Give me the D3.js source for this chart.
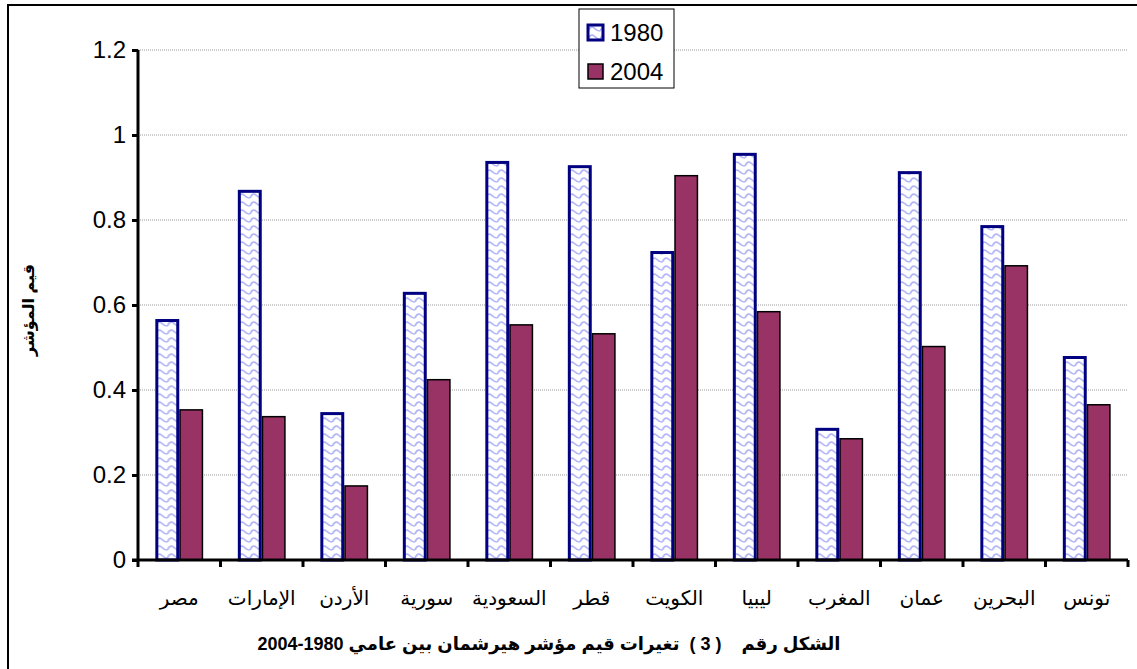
<!DOCTYPE html>
<html>
<head>
<meta charset="utf-8">
<script src="https://cdn.jsdelivr.net/npm/d3@7"></script>
<style>
  html, body { margin: 0; padding: 0; background: #fff; }
  svg { display: block; font-family: Arial, "Liberation Sans", "DejaVu Sans", sans-serif; }
  .caption { white-space: pre; }
</style>
</head>
<body>
<div id="chart"></div>
<script>
const countries = ["مصر", "الإمارات", "الأردن", "سورية", "السعودية", "قطر", "الكويت", "ليبيا", "المغرب", "عمان", "البحرين", "تونس"];
const values1980 = [0.567, 0.871, 0.348, 0.631, 0.939, 0.929, 0.727, 0.958, 0.311, 0.915, 0.788, 0.48];
const values2004 = [0.355, 0.339, 0.176, 0.426, 0.555, 0.534, 0.906, 0.586, 0.287, 0.504, 0.694, 0.367];
const seriesNames = ["1980", "2004"];
const yTicks = [0, 0.2, 0.4, 0.6, 0.8, 1, 1.2];

const width = 1137, height = 669;
const margin = { top: 50, right: 9, bottom: 109, left: 138 };

const svg = d3.select("#chart").append("svg")
  .attr("width", width)
  .attr("height", height);

// wavy fill for the 1980 bars
const defs = svg.append("defs");
const pat = defs.append("pattern")
  .attr("id", "wave")
  .attr("patternUnits", "userSpaceOnUse")
  .attr("width", 12)
  .attr("height", 8);
pat.append("rect").attr("width", 12).attr("height", 8).attr("fill", "#fff");
pat.append("path")
  .attr("d", "M0,6 Q3,0 6,3 T12,6")
  .attr("fill", "none")
  .attr("stroke", "#aeb2f6")
  .attr("stroke-width", 1.7);

// outer frame
svg.append("path")
  .attr("d", `M8,${height} L8,5 L${width},5`)
  .attr("fill", "none")
  .attr("stroke", "#000")
  .attr("stroke-width", 2);

const x0 = d3.scaleBand()
  .domain(countries)
  .range([margin.left, width - margin.right])
  .paddingInner(0.42)
  .paddingOuter(0.21);

const x1 = d3.scaleBand()
  .domain(seriesNames)
  .range([0, x0.bandwidth()]);

const y = d3.scaleLinear()
  .domain([0, 1.2])
  .range([height - margin.bottom, margin.top]);

// gridlines
svg.append("g")
  .selectAll("line")
  .data(yTicks.filter((t) => t > 0))
  .join("line")
  .attr("x1", margin.left)
  .attr("x2", width - margin.right)
  .attr("y1", (d) => y(d))
  .attr("y2", (d) => y(d))
  .attr("stroke", "#9a9a9a")
  .attr("stroke-width", 1)
  .attr("stroke-dasharray", "1,1");

// bars
const rows = countries.map((c, i) => ({ country: c, vals: [values1980[i], values2004[i]] }));
const groups = svg.append("g")
  .selectAll("g")
  .data(rows)
  .join("g")
  .attr("transform", (d) => `translate(${x0(d.country)},0)`);

groups.selectAll("rect")
  .data((d) => d.vals.map((v, k) => ({ key: seriesNames[k], v })))
  .join("rect")
  .attr("x", (d) => x1(d.key) + (d.key === "1980" ? 1.5 : 0.75))
  .attr("width", (d) => x1.bandwidth() - (d.key === "1980" ? 3 : 1.5))
  .attr("y", (d) => y(d.v) + (d.key === "1980" ? 1.5 : 0.75))
  .attr("height", (d) => y(0) - y(d.v) - (d.key === "1980" ? 1.5 : 0.75))
  .attr("fill", (d) => (d.key === "1980" ? "url(#wave)" : "#993366"))
  .attr("stroke", (d) => (d.key === "1980" ? "#000080" : "#000"))
  .attr("stroke-width", (d) => (d.key === "1980" ? 3 : 1.5));

// y axis
const yAxis = svg.append("g")
  .attr("transform", `translate(${margin.left},0)`)
  .call(d3.axisLeft(y).tickValues(yTicks).tickSize(6).tickPadding(6).tickFormat((d) => String(d)));
yAxis.select(".domain").attr("stroke-width", 3).attr("d", `M0,${y(1.2)}V${y(0)}`);
yAxis.selectAll(".tick line").attr("stroke-width", 3);
yAxis.selectAll(".tick text")
  .attr("font-size", 24)
  .attr("fill", "#000")
  .attr("font-family", "Arial, 'Liberation Sans', sans-serif");

// x axis
const xAxis = svg.append("g")
  .attr("transform", `translate(0,${y(0)})`);
xAxis.append("line")
  .attr("x1", margin.left - 6)
  .attr("x2", width - margin.right)
  .attr("stroke", "#000")
  .attr("stroke-width", 3);
const edges = countries.map((c) => x0(c) - x0.step() * 0.21).concat([width - margin.right]);
xAxis.selectAll("line.tk")
  .data(edges)
  .join("line")
  .attr("class", "tk")
  .attr("x1", (d) => d)
  .attr("x2", (d) => d)
  .attr("y1", 0)
  .attr("y2", 7)
  .attr("stroke", "#000")
  .attr("stroke-width", 3);
xAxis.selectAll("text")
  .data(countries)
  .join("text")
  .attr("x", (d) => x0(d) + x0.bandwidth() / 2)
  .attr("y", 45)
  .attr("text-anchor", "middle")
  .attr("font-size", 20)
  .text((d) => d);

// y axis title
svg.append("text")
  .attr("transform", `translate(34,310) rotate(-90)`)
  .attr("text-anchor", "middle")
  .attr("font-size", 16)
  .attr("font-weight", "bold")
  .text("قيم المؤشر");

// caption
svg.append("text")
  .attr("class", "caption")
  .attr("x", 549)
  .attr("y", 650)
  .attr("text-anchor", "middle")
  .attr("direction", "rtl")
  .attr("font-size", 18)
  .attr("font-weight", "bold")
  .text("الشكل رقم    ( 3 )  تغيرات قيم مؤشر هيرشمان بين عامي 1980\u200F-2004");

// legend
const legend = svg.append("g").attr("transform", "translate(579,9)");
legend.append("rect")
  .attr("width", 95)
  .attr("height", 79)
  .attr("fill", "#fff")
  .attr("stroke", "#000")
  .attr("stroke-width", 1);
const li = legend.selectAll("g")
  .data(seriesNames)
  .join("g")
  .attr("transform", (d, i) => `translate(9,${16 + i * 39})`);
li.append("rect")
  .attr("width", 15)
  .attr("height", 15)
  .attr("fill", (d) => (d === "1980" ? "url(#wave)" : "#993366"))
  .attr("stroke", (d) => (d === "1980" ? "#000080" : "#000"))
  .attr("stroke-width", (d) => (d === "1980" ? 3 : 1.5));
li.append("text")
  .attr("x", 22)
  .attr("y", 16)
  .attr("font-size", 24)
  .text((d) => d);
</script>
</body>
</html>
